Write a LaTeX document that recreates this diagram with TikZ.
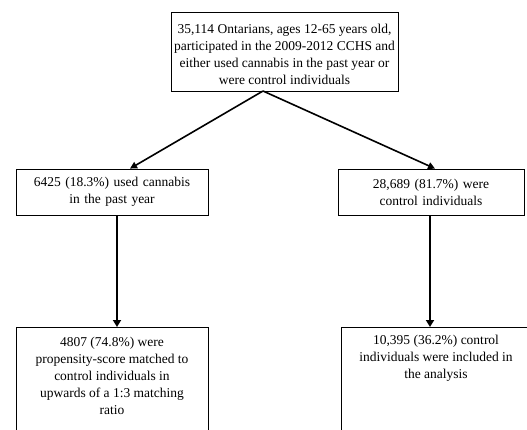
\documentclass[tikz,border=0pt]{standalone}
\usepackage{fontspec}
\setmainfont{Liberation Serif}
\usetikzlibrary{arrows.meta}
\begin{document}
\begin{tikzpicture}[x=1pt,y=-1pt,
  box/.style={draw, line width=0.8pt, inner sep=0pt, align=center,
    font=\fontsize{13.5}{17}\selectfont},
  thinarrow/.style={line width=1.6pt, -{Triangle[length=7pt,width=7pt]}},
  thickarrow/.style={line width=2.6pt, -{Triangle[length=7pt,width=8pt]}}]
\useasboundingbox (0,0) rectangle (527,429);
\clip (0,0) rectangle (527,429);
\node[box, anchor=north] (top) at (284.5,12)
  {\parbox[t][79pt][t]{227pt}{\centering\vspace*{9pt}\strut 35,114 Ontarians, ages 12-65 years old,\\ participated in the 2009-2012 CCHS and\\ either used cannabis in the past year or\\ were control individuals}};
\node[box, minimum width=192pt, minimum height=46pt, text width=190pt] (midL) at (112,192)
  {6425 (18.3\%) used cannabis\\ in the past year};
\node[box, minimum width=186pt, minimum height=46pt, text width=184pt] (midR) at (431,192)
  {28,689 (81.7\%) were\\ control individuals};
\node[box, anchor=north] (botL) at (112,327)
  {\parbox[t][130pt][t]{192pt}{\centering\vspace*{7pt}\strut 4807 (74.8\%) were\\ propensity-score matched to\\ control individuals in\\ upwards of a 1:3 matching\\ ratio}};
\node[box, anchor=north] (botR) at (436,327)
  {\parbox[t][130pt][t]{190pt}{\centering\vspace*{5pt}\strut 10,395 (36.2\%) control\\ individuals were included in\\ the analysis}};
\coordinate (split) at (263,91);
\draw[thinarrow] (split) -- (midL.north -| 130,0);
\draw[thinarrow] (split) -- (midR.north -| 435,0);
\draw[thickarrow] (midL.south -| 117,0) -- (botL.north -| 117,0);
\draw[thickarrow] (midR.south -| 430,0) -- (botR.north -| 430,0);
\end{tikzpicture}
\end{document}
